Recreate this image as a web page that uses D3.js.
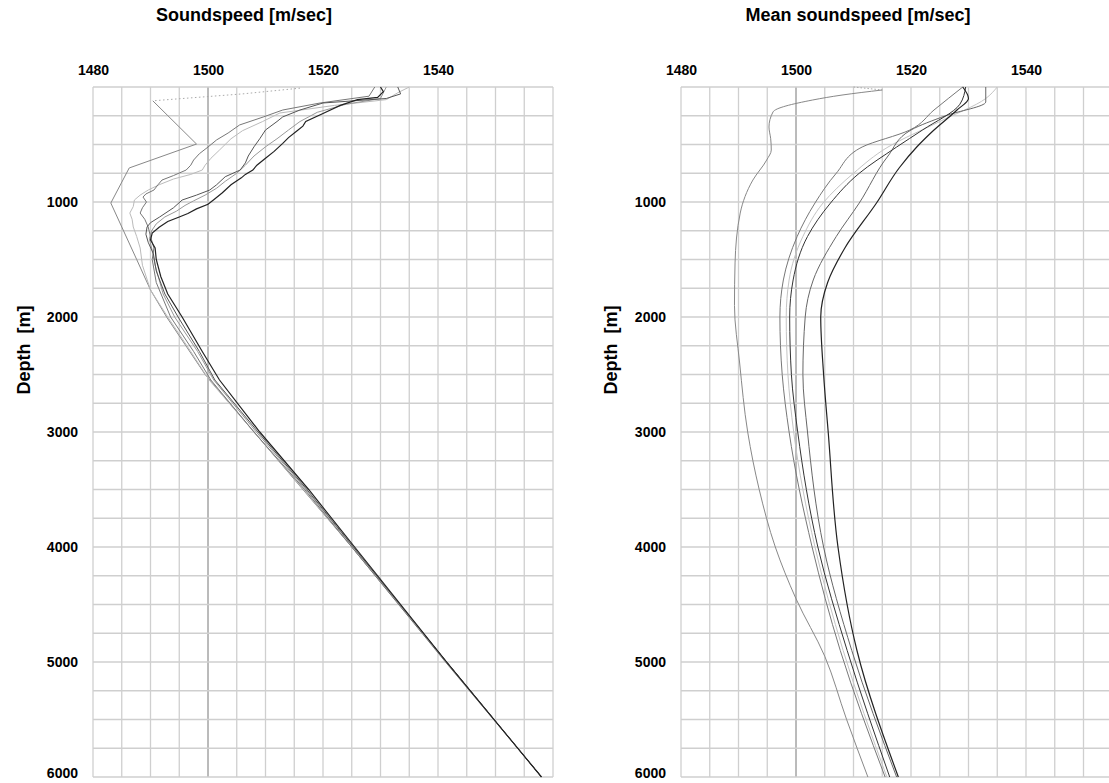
<!DOCTYPE html>
<html>
<head>
<meta charset="utf-8">
<script src="https://cdn.jsdelivr.net/npm/d3@7"></script>
<style>
  body { margin: 0; background: #fff; }
  svg { display: block; font-family: "Liberation Sans", Arial, sans-serif; }
  .tick text { font-weight: bold; font-size: 14px; fill: #000; }
  .title { font-weight: bold; font-size: 18px; }
</style>
</head>
<body>
<svg id="chart" width="1109" height="783"></svg>
<script>
'use strict';

// ticks
var speedLabels = [1480, 1500, 1520, 1540];
var depthLabels = [1000, 2000, 3000, 4000, 5000, 6000];

// left panel: measured profiles, [depth, soundspeed]
var profileA = [[0,1530],[40,1530.5],[90,1529.5],[110,1526],[160,1523],[230,1520],[300,1517],[340,1516.5],[380,1515.5],[440,1514],[490,1513],[560,1511.5],[620,1510],[680,1508.5],[722,1507.8],[760,1506.5],[790,1505.8],[850,1504],[920,1502.5],[980,1501],[1020,1500],[1060,1498],[1100,1496.5],[1130,1495],[1170,1493],[1220,1491.5],[1270,1490.3],[1330,1490],[1400,1490.8],[1500,1491],[1650,1491.8],[1800,1493],[2000,1495.5],[2300,1499],[2548,1502],[3000,1509],[3500,1517.5],[4000,1525.5],[5000,1541.5],[6000,1558]];
var profileB = [[0,1533],[60,1533.5],[100,1531],[139,1520],[200,1516],[260,1513],[300,1512],[374,1510],[450,1509],[520,1508],[600,1507],[660,1506.5],[722,1505.6],[780,1503],[850,1501.5],[896,1500.3],[940,1498],[983,1495.5],[1050,1494],[1130,1491.6],[1180,1490],[1217,1489.4],[1280,1489.2],[1350,1489.6],[1450,1490.5],[1600,1491],[1800,1492.5],[2000,1494.8],[2300,1498.5],[2548,1501.2],[3000,1508.7],[3500,1517.2],[4000,1525.3],[5000,1541.5],[6000,1558]];
var profileC = [[0,1529],[80,1528],[139,1519.5],[200,1513],[261,1509.6],[330,1505.5],[400,1503.5],[460,1501.5],[522,1500],[580,1498.5],[635,1497.5],[680,1497],[722,1496.2],[770,1494],[809,1492],[850,1491.3],[896,1490.6],[930,1489.2],[957,1488.7],[1000,1489.3],[1050,1488.6],[1096,1488.2],[1150,1489],[1217,1489.6],[1300,1490],[1400,1490.6],[1500,1490.3],[1700,1491],[2000,1493.5],[2300,1497.5],[2548,1500.5],[3000,1508],[3500,1516.8],[4000,1525],[5000,1541.3],[6000,1558]];
var profileD = [[0,1535],[50,1533],[110,1531],[160,1522],[226,1512.5],[300,1509.5],[380,1506],[450,1504],[548,1502],[620,1500.5],[680,1499.5],[722,1499],[760,1497],[800,1494],[850,1491.5],[896,1489.6],[940,1488.2],[983,1487.2],[1040,1487],[1096,1486.4],[1150,1486.8],[1217,1487],[1300,1487.6],[1400,1488.2],[1550,1488.6],[1765,1490],[2000,1493],[2300,1497],[2548,1500.2],[3000,1508],[3500,1516.6],[4000,1525],[5000,1541.4],[6000,1558]];
var profileE = [[0,1531],[100,1530],[150,1524],[220,1519],[300,1516],[374,1514],[450,1512],[520,1510],[600,1508],[680,1506.5],[750,1505],[820,1503],[880,1501.5],[940,1499.5],[990,1497.5],[1030,1496],[1080,1494.5],[1130,1492.5],[1190,1491],[1250,1490.2],[1320,1489.8],[1420,1490.3],[1550,1490.8],[1800,1492.2],[2000,1494.2],[2300,1498.2],[2548,1501],[3000,1508.4],[3500,1517],[4000,1525.2],[5000,1541.5],[6000,1558]];
var profileF = [[120,1490.4],[496,1498],[704,1486.3],[1009,1483.1],[1500,1487.6],[1765,1490],[2000,1492.8],[2500,1499.5],[3000,1508],[4000,1525],[5000,1541.5],[6000,1558]];
var surfaceF = [[10,1516],[60,1506],[120,1490.4]];

// right panel: mean profiles, [depth, soundspeed]
var meanA = [[0,1529],[100,1530],[200,1528],[374,1524],[522,1521],[700,1518],[1009,1514],[1400,1508.5],[1700,1505.5],[2000,1504.3],[2500,1504.8],[3000,1505.6],[4000,1507.3],[4900,1510.6],[6000,1517.8]];
var meanB = [[0,1533],[130,1533],[250,1526],[374,1520],[600,1516],[1009,1511],[1300,1507],[1678,1503],[2000,1501.6],[2500,1501.2],[3000,1502],[4000,1504.8],[4900,1509.7],[6000,1517.5]];
var meanC = [[0,1529.5],[150,1528.5],[374,1522],[522,1517.5],[750,1511],[1009,1506],[1300,1502],[1678,1499.5],[2000,1498.9],[2500,1499.2],[3000,1500.3],[4000,1503.8],[4900,1508.9],[6000,1516.3]];
var meanD = [[0,1535],[100,1533],[300,1525],[522,1516],[750,1510],[1009,1504.7],[1300,1501.2],[1678,1498.8],[2000,1498.3],[2500,1498.6],[3000,1499.6],[4000,1503.3],[4900,1508.2],[6000,1515.8]];
var meanE = [[0,1529],[200,1524],[374,1519.8],[522,1511.5],[750,1507],[1009,1503.3],[1300,1500.2],[1678,1497.8],[2000,1497.2],[2500,1497.6],[3000,1498.8],[4000,1502.8],[4900,1507.7],[6000,1515.5]];
var meanF = [[26,1515],[70,1508],[113,1502.9],[217,1496],[348,1495.3],[450,1495.6],[548,1495.7],[635,1494.9],[809,1492.5],[1096,1490.3],[1530,1489.4],[1900,1489.3],[2400,1490.2],[3000,1491.6],[3500,1493.6],[4000,1496.4],[4450,1500],[4950,1505],[5500,1508.8],[6000,1512.5]];
var surfaceMeanF = [[0,1510],[26,1515]];

var svg = d3.select('#chart');

function panel (opts) {
  var x = d3.scaleLinear().domain([1480, 1560]).range([opts.left, opts.left + 460]);
  var y = d3.scaleLinear().domain([0, 6000]).range([87, 777]);
  var g = svg.append('g');

  // grid
  g.selectAll('line.vgrid').data(d3.range(1480, 1561, 5)).enter().append('line')
    .attr('x1', x).attr('x2', x).attr('y1', y(0)).attr('y2', y(6000))
    .attr('stroke', function (d) { return d === 1500 ? '#777' : '#cfcfcf'; })
    .attr('stroke-width', function (d) { return d === 1500 ? 1 : 1.3; });
  g.selectAll('line.hgrid').data(d3.range(0, 6001, 250)).enter().append('line')
    .attr('x1', x(1480)).attr('x2', x(1560)).attr('y1', y).attr('y2', y)
    .attr('stroke', '#cfcfcf').attr('stroke-width', 1.3);

  // axes
  g.append('g').attr('transform', 'translate(0,' + y(0) + ')')
    .call(d3.axisTop(x).tickValues(speedLabels).tickSize(0).tickPadding(12).tickFormat(d3.format('d')))
    .call(function (a) { a.select('.domain').remove(); });
  g.append('g').attr('transform', 'translate(' + x(1480) + ',0)')
    .call(d3.axisLeft(y).tickValues(depthLabels).tickSize(0).tickPadding(15).tickFormat(d3.format('d')))
    .call(function (a) {
      a.select('.domain').remove();
      // keep the bottom label inside the picture
      a.selectAll('.tick text').filter(function (d) { return d === 6000; }).attr('dy', '0.02em');
    });

  g.append('text').attr('class', 'title').attr('x', opts.titleX).attr('y', 21)
    .attr('text-anchor', 'middle').text(opts.title);
  g.append('text').attr('class', 'title')
    .attr('transform', 'translate(' + opts.depthX + ',350) rotate(-90)')
    .attr('text-anchor', 'middle').attr('xml:space', 'preserve').text('Depth  [m]');

  var line = d3.line().x(function (d) { return x(d[1]); }).y(function (d) { return y(d[0]); })
    .curve(opts.curve);

  g.selectAll('path.profile').data(opts.series).enter().append('path')
    .attr('d', function (s) { return line(s.values); })
    .attr('fill', 'none')
    .attr('stroke', function (s) { return s.color; })
    .attr('stroke-width', function (s) { return s.width || 1; })
    .attr('stroke-dasharray', function (s) { return s.dash || null; });
}

panel({
  left: 93, titleX: 244, depthX: 30, title: 'Soundspeed [m/sec]', curve: d3.curveLinear,
  series: [
    {values: surfaceF, color: '#aaa', dash: '1.5,2.5'},
    {values: profileF, color: '#888'},
    {values: profileD, color: '#bbb'},
    {values: profileC, color: '#777'},
    {values: profileE, color: '#999'},
    {values: profileB, color: '#555'},
    {values: profileA, color: '#222', width: 1.2}
  ]
});

panel({
  left: 681, titleX: 858, depthX: 617, title: 'Mean soundspeed [m/sec]', curve: d3.curveMonotoneY,
  series: [
    {values: surfaceMeanF, color: '#aaa', dash: '1.5,2'},
    {values: meanF, color: '#888'},
    {values: meanD, color: '#c4c4c4'},
    {values: meanE, color: '#777'},
    {values: meanB, color: '#666'},
    {values: meanC, color: '#333'},
    {values: meanA, color: '#222', width: 1.2}
  ]
});
</script>
</body>
</html>
